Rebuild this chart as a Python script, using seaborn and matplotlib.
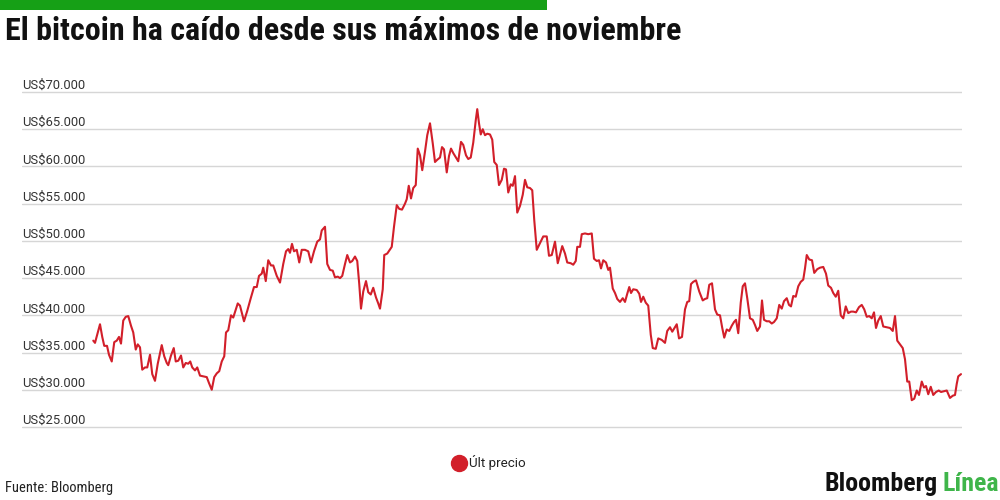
import matplotlib
matplotlib.use("Agg")
import matplotlib.pyplot as plt
import seaborn as sns
import pandas as pd
from matplotlib import font_manager
from matplotlib.lines import Line2D
from matplotlib.patches import Rectangle
from matplotlib.transforms import blended_transform_factory, offset_copy

# ---------------- data ----------------
titulo = "El bitcoin ha caído desde sus máximos de noviembre"
serie = "Últ precio"
fuente = "Fuente: Bloomberg"
marca_1 = "Bloomberg"
marca_2 = "Línea"
fecha_inicio = "2021-06-01"

dias = [
    0.1, 0.8, 1.9, 2.8, 3.7, 4.5, 5.6, 6.4, 7.5, 8.5, 9.5, 10.4, 11.2, 12.1, 13.1, 14.1, 15.2, 16.1, 17.1, 17.9,
    18.8, 19.7, 20.8, 21.7, 22.8, 23.7, 24.8, 25.9, 27.5, 28.5, 29.5, 30.1, 31.2, 32.3, 33.1, 34.1, 35.2, 36.1, 37.1, 38.1,
    38.9, 39.7, 40.8, 41.7, 42.8, 44.1, 45.5, 46.4, 47.5, 48.5, 49.5, 50.5, 51.5, 52.5, 53.2, 54.1, 55.2, 56.1, 57.9, 58.8,
    60.4, 61.7, 63.1, 64.4, 65.5, 66.4, 67.5, 68.1, 69.1, 70.1, 71.2, 72.1, 73.5, 74.8, 76.1, 77.2, 78.1, 78.8, 79.6, 80.4,
    81.5, 82.5, 83.5, 84.8, 86.1, 87.2, 88.4, 89.7, 90.8, 91.5, 92.8, 93.7, 94.8, 95.9, 96.8, 97.9, 98.8, 99.7, 100.8, 101.7,
    102.8, 103.7, 104.8, 105.7, 106.5, 107.2, 108.1, 109.2, 110.1, 111.1, 112.1, 113.2, 114.1, 114.8, 115.9, 116.5, 117.7, 119.5, 120.4, 121.5,
    122.5, 123.6, 124.8, 125.5, 126.3, 127.2, 128.1, 129.1, 129.9, 130.8, 131.7, 132.8, 133.7, 134.8, 135.9, 136.8, 137.7, 138.8, 139.6, 140.4,
    141.5, 142.4, 143.2, 144.1, 145.2, 146.1, 147.2, 148.1, 149.2, 150.1, 151.1, 152.1, 153.1, 153.7, 154.4, 155.1, 155.9, 156.8, 157.7, 158.8,
    159.7, 160.5, 161.5, 162.4, 163.5, 164.4, 165.2, 166.1, 167.1, 167.9, 168.8, 169.7, 170.8, 171.9, 172.8, 173.7, 174.8, 175.7, 176.5, 177.5,
    178.8, 180.1, 181.5, 182.4, 183.5, 184.8, 185.9, 187.7, 188.8, 189.7, 191.1, 192.1, 193.1, 193.7, 194.8, 195.5, 196.8, 198.1, 199.5, 200.4,
    201.5, 202.4, 203.2, 204.1, 205.2, 206.1, 206.8, 207.9, 208.8, 209.7, 210.8, 211.9, 212.8, 213.7, 214.5, 215.2, 216.1, 217.5, 218.5, 219.2,
    220.1, 221.1, 222.1, 223.1, 223.9, 225.1, 226.1, 227.5, 228.8, 229.7, 230.8, 231.7, 233.5, 234.4, 235.6, 236.8, 237.7, 238.5, 239.2, 240.1,
    241.2, 242.5, 243.9, 244.8, 245.7, 246.5, 247.6, 248.8, 249.7, 250.8, 251.7, 252.5, 253.5, 254.5, 255.5, 256.4, 257.2, 258.1, 259.1, 259.9,
    260.8, 261.7, 262.8, 263.9, 264.8, 265.7, 266.8, 267.6, 268.4, 269.5, 270.5, 271.5, 272.4, 273.5, 274.5, 275.5, 276.4, 277.5, 278.4, 279.2,
    280.1, 281.1, 282.1, 283.1, 284.1, 284.8, 285.5, 286.5, 287.6, 288.5, 289.7, 290.8, 292.1, 293.2, 294.1, 295.2, 296.1, 297.1, 298.1, 299.1,
    300.1, 301.1, 302.1, 303.2, 304.1, 305.2, 306.4, 307.5, 308.5, 309.5, 310.5, 311.5, 312.4, 313.2, 314.1, 315.1, 316.1, 317.5, 318.8, 319.9,
    320.8, 321.7, 322.8, 323.9, 324.8, 325.7, 326.5, 327.5, 328.5, 329.5, 330.4, 331.5, 332.4, 333.2, 334.1, 335.1, 336.1, 337.2, 338.3, 339.2,
    340.4, 341.5, 342.8, 343.9, 344.8, 345.5, 346.1, 347.2,
]

precio_miles = [
    36.6, 36.3, 37.7, 38.8, 37.1, 35.9, 35.9, 34.7, 33.8, 36.4, 36.6, 37.1, 36.2, 39.3, 39.8, 39.9, 38.6, 37.7, 35.4, 36.1,
    35.7, 32.7, 33.0, 33.0, 34.7, 32.1, 31.2, 33.5, 36.0, 34.5, 33.6, 33.3, 34.6, 35.6, 33.8, 33.9, 34.6, 33.0, 33.6, 33.5,
    33.8, 33.0, 32.6, 33.0, 31.9, 31.8, 31.7, 30.9, 30.0, 31.7, 32.2, 32.5, 33.8, 34.5, 37.7, 38.0, 40.0, 39.7, 41.6, 41.3,
    39.2, 40.6, 42.3, 43.8, 43.8, 45.3, 45.6, 46.4, 44.6, 47.4, 46.7, 46.7, 45.3, 44.4, 46.9, 48.6, 48.9, 48.4, 49.6, 48.6,
    48.8, 47.1, 48.8, 48.8, 48.6, 47.1, 48.6, 49.9, 50.2, 51.4, 51.9, 46.9, 46.1, 46.0, 45.1, 45.2, 45.0, 45.3, 46.9, 48.1,
    47.1, 47.3, 47.9, 47.3, 44.2, 40.9, 43.2, 44.6, 43.1, 42.8, 43.7, 42.4, 41.6, 40.9, 43.5, 48.1, 48.3, 49.2, 51.9, 54.8,
    54.3, 54.2, 55.0, 55.6, 57.4, 55.7, 57.1, 57.5, 62.4, 61.5, 59.5, 62.0, 64.2, 65.8, 63.1, 60.6, 60.9, 61.2, 62.6, 62.3,
    59.2, 61.4, 62.4, 61.8, 61.2, 60.7, 63.3, 62.9, 61.5, 61.0, 61.2, 63.2, 66.2, 67.7, 65.8, 64.3, 65.0, 64.2, 64.4, 64.3,
    63.6, 60.6, 60.2, 57.5, 58.2, 59.7, 59.6, 56.5, 57.6, 57.4, 58.7, 53.8, 54.7, 56.2, 58.2, 57.2, 57.1, 56.8, 52.8, 48.8,
    49.7, 50.6, 50.6, 48.0, 48.1, 49.9, 47.0, 49.3, 48.3, 47.1, 47.0, 46.8, 47.3, 49.2, 49.2, 50.9, 51.0, 50.9, 51.0, 47.6,
    47.3, 47.4, 46.3, 47.4, 47.1, 46.1, 46.4, 43.6, 43.0, 42.2, 41.8, 42.3, 41.8, 42.9, 43.8, 43.0, 43.5, 43.4, 42.9, 41.8,
    42.5, 41.7, 41.3, 37.4, 35.6, 35.5, 36.9, 36.7, 36.3, 37.9, 38.4, 37.8, 38.8, 36.9, 37.1, 40.8, 41.8, 41.9, 44.2, 44.5,
    44.7, 43.2, 42.0, 42.2, 42.3, 44.1, 44.3, 40.8, 40.1, 40.0, 38.3, 37.0, 38.1, 37.9, 38.6, 39.1, 39.4, 37.6, 41.7, 43.9,
    44.3, 42.3, 39.6, 39.4, 38.7, 37.9, 38.5, 42.0, 39.4, 39.2, 39.2, 38.9, 39.1, 39.6, 41.4, 40.9, 41.9, 42.3, 41.4, 41.2,
    42.6, 42.5, 43.9, 44.5, 44.8, 46.3, 48.1, 47.5, 47.4, 45.7, 46.2, 46.4, 46.5, 45.6, 44.0, 43.7, 43.0, 42.5, 43.3, 40.0,
    39.6, 41.2, 40.3, 40.5, 40.5, 40.4, 41.1, 41.4, 40.8, 39.8, 39.9, 39.6, 40.4, 38.3, 39.3, 39.9, 38.5, 38.4, 38.3, 37.9,
    39.9, 36.6, 36.1, 35.6, 34.1, 31.1, 31.1, 28.6, 28.8, 29.9, 29.3, 31.1, 30.3, 30.5, 29.4, 30.4, 29.3, 29.7, 29.9, 29.7,
    29.8, 29.9, 28.9, 29.2, 29.3, 30.8, 31.8, 32.1,
]

niveles = [25000, 30000, 35000, 40000, 45000, 50000, 55000, 60000, 65000, 70000]
etiquetas = ["US$25.000", "US$30.000", "US$35.000", "US$40.000", "US$45.000",
             "US$50.000", "US$55.000", "US$60.000", "US$65.000", "US$70.000"]

# ---------------- style ----------------
ROJO = "#d21f2a"
VERDE_BARRA = "#16a016"
VERDE_LOGO = "#3fb54a"
GRIS_GRID = "#d6d6d6"
TEXTO = "#222222"

sns.set_theme(style="white")
disponibles = {f.name for f in font_manager.fontManager.ttflist}
cond = None
for cand in ["Roboto Condensed", "Liberation Sans Narrow", "Open Sans Condensed", "Roboto"]:
    if cand in disponibles:
        cond = cand
        break
if cond is None:
    cond = "DejaVu Sans"
regular = "Roboto" if "Roboto" in disponibles else "DejaVu Sans"
plt.rcParams["font.family"] = [cond, "DejaVu Sans"]

W, H = 1000, 500
fig = plt.figure(figsize=(W / 100, H / 100), dpi=100)
fig.patch.set_facecolor("white")

# axes placement (pixels): left 22, right 962; y 70k at 92 px, 25k at 427 px
y_top, y_bot = 88.3, 430.7
ax = fig.add_axes([22 / W, 1 - y_bot / H, (962 - 22) / W, (y_bot - y_top) / H])

precio = [v * 1000 for v in precio_miles]
t0 = pd.Timestamp(fecha_inicio)
fechas = t0 + pd.to_timedelta(dias, unit="D")
df = pd.DataFrame({"fecha": fechas, "precio": precio})

sns.lineplot(data=df, x="fecha", y="precio", ax=ax, color=ROJO, linewidth=1.5,
             legend=False, zorder=3)

ax.set_xlim(t0 - pd.Timedelta(days=28.4), t0 + pd.Timedelta(days=347.6))
ax.set_ylim(24500, 70500)
ax.set_yticks(niveles)
ax.set_yticklabels([])
ax.set_xticks([])
ax.tick_params(length=0)
ax.grid(axis="y", color=GRIS_GRID, linewidth=1.0, zorder=0)
ax.grid(axis="x", visible=False)
ax.set_xlabel("")
ax.set_ylabel("")
ax.set_facecolor("white")
for s in ax.spines.values():
    s.set_visible(False)

renderer = fig.canvas.get_renderer()


def ajustar(t, ancho_px):
    bb = t.get_window_extent(renderer)
    if bb.width > 0:
        t.set_fontsize(t.get_fontsize() * ancho_px / bb.width)


trans = offset_copy(blended_transform_factory(ax.transAxes, ax.transData),
                    fig=fig, x=0, y=3, units="dots")
textos_y = []
for v, lab in zip(niveles, etiquetas):
    textos_y.append(ax.text(0, v, lab, transform=trans, ha="left", va="baseline",
                            fontsize=9, color="#333333",
                            family=[regular, "DejaVu Sans"]))
ajustar(textos_y[-1], 64)
for t in textos_y[:-1]:
    t.set_fontsize(textos_y[-1].get_fontsize())

# top green bar
fig.add_artist(Rectangle((0, 1 - 10 / H), 547 / W, 10 / H, transform=fig.transFigure,
                         facecolor=VERDE_BARRA, edgecolor="none"))

tit = fig.text(5 / W, 1 - 40 / H, titulo, ha="left", va="baseline",
               fontsize=20, fontweight="bold", color="#111111")
ajustar(tit, 673)

fte = fig.text(5 / W, 1 - 492 / H, fuente, ha="left", va="baseline",
               fontsize=9, color=TEXTO)
ajustar(fte, 108)

m1 = fig.text(938 / W, 1 - 491 / H, marca_1, ha="right", va="baseline",
              fontsize=15, fontweight="bold", color="#111111")
ajustar(m1, 113)
m2 = fig.text(942 / W, 1 - 491 / H, marca_2, ha="left", va="baseline",
              fontsize=m1.get_fontsize(), fontweight="bold", color=VERDE_LOGO)

handle = Line2D([], [], marker="o", color=ROJO, linestyle="none", markersize=11.5)
leg = fig.legend([handle], [serie], loc="center", bbox_to_anchor=(0.489, 1 - 463 / H),
                 frameon=False, fontsize=9, handlelength=1.0, handletextpad=0.35,
                 labelcolor=TEXTO, prop={"family": [regular, "DejaVu Sans"], "size": 9})
ajustar(leg.get_texts()[0], 57)

fig.savefig("out.png", dpi=100, facecolor="white")
